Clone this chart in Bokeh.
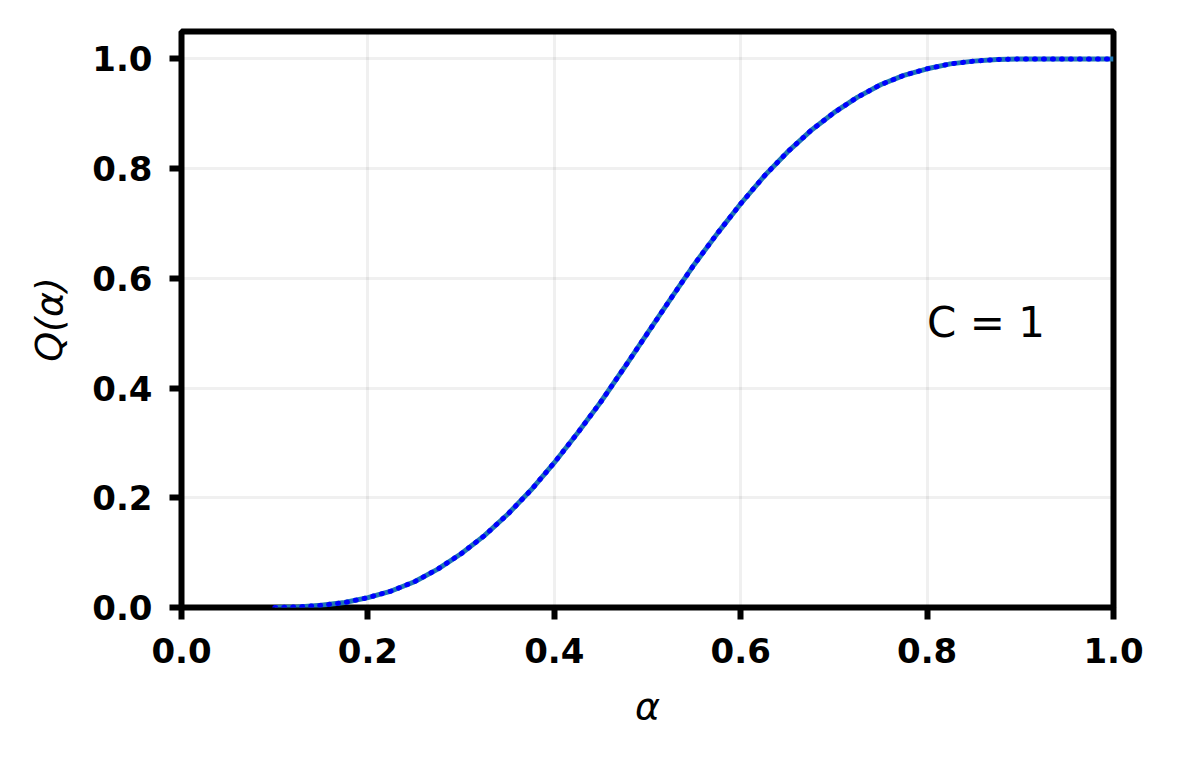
from bokeh.plotting import figure
from bokeh.models import Range1d, FixedTicker, Label
from bokeh.embed import file_html
from bokeh.resources import INLINE

# Data
alpha = [0.100, 0.125, 0.150, 0.175, 0.200, 0.225, 0.250, 0.275, 0.300, 0.325,
         0.350, 0.375, 0.400, 0.425, 0.450, 0.475, 0.500, 0.525, 0.550, 0.575,
         0.600, 0.625, 0.650, 0.675, 0.700, 0.725, 0.750, 0.775, 0.800, 0.825,
         0.850, 0.875, 0.900, 0.925, 0.950, 0.975, 1.000]
q_solid = [0.000, 0.001, 0.004, 0.009, 0.018, 0.030, 0.047, 0.070, 0.098, 0.131,
           0.170, 0.214, 0.264, 0.318, 0.375, 0.437, 0.500, 0.563, 0.625, 0.682,
           0.736, 0.786, 0.830, 0.869, 0.902, 0.930, 0.953, 0.970, 0.982, 0.991,
           0.996, 0.999, 1.000, 1.000, 1.000, 1.000, 1.000]
q_dotted = list(q_solid)

x_ticks = [0.0, 0.2, 0.4, 0.6, 0.8, 1.0]
y_ticks = [0.0, 0.2, 0.4, 0.6, 0.8, 1.0]
annotation = "C = 1"

FONT = "DejaVu Sans"

p = figure(frame_width=932, frame_height=576,
           min_border_left=181, min_border_top=31, min_border_right=56, min_border_bottom=130,
           x_range=Range1d(0, 1.0), y_range=Range1d(0, 1.05),
           output_backend="svg", toolbar_location=None,
           x_axis_label="α", y_axis_label="Q(α)")

p.background_fill_color = "white"
p.border_fill_color = "white"
p.outline_line_color = "black"
p.outline_line_width = 6

for ax in (p.xaxis[0], p.yaxis[0]):
    ax.axis_line_color = None
    ax.major_tick_line_color = "black"
    ax.major_tick_line_width = 6
    ax.major_tick_out = 12
    ax.major_tick_in = 0
    ax.minor_tick_line_color = None
    ax.major_label_text_font = FONT
    ax.major_label_text_font_style = "bold"
    ax.major_label_text_font_size = "34px"
    ax.major_label_text_color = "black"
    ax.axis_label_text_font = FONT
    ax.axis_label_text_font_style = "italic"
    ax.axis_label_text_font_size = "38px"
    ax.axis_label_text_color = "black"

p.xaxis[0].ticker = FixedTicker(ticks=x_ticks)
p.yaxis[0].ticker = FixedTicker(ticks=y_ticks)
p.xaxis[0].major_label_overrides = {t: f"{t:.1f}" for t in x_ticks}
p.yaxis[0].major_label_overrides = {t: f"{t:.1f}" for t in y_ticks}
p.xaxis[0].major_label_standoff = 18
p.yaxis[0].major_label_standoff = 17
p.xaxis[0].axis_label_standoff = 18
p.yaxis[0].axis_label_standoff = 18

p.xgrid.grid_line_color = "#000000"
p.xgrid.grid_line_alpha = 0.06
p.xgrid.grid_line_width = 3
p.ygrid.grid_line_color = "#000000"
p.ygrid.grid_line_alpha = 0.06
p.ygrid.grid_line_width = 3

p.line(alpha, q_solid, line_color="#1f77b4", line_width=5)
p.line(alpha, q_dotted, line_color="#0000ff", line_width=5,
       line_dash="1 8", line_cap="round")

p.add_layout(Label(x=0.8, y=0.52, text=annotation, text_font=FONT,
                   text_font_size="42px", text_color="black",
                   text_align="left", text_baseline="alphabetic"))

open("out.html", "w").write(file_html(p, INLINE))
